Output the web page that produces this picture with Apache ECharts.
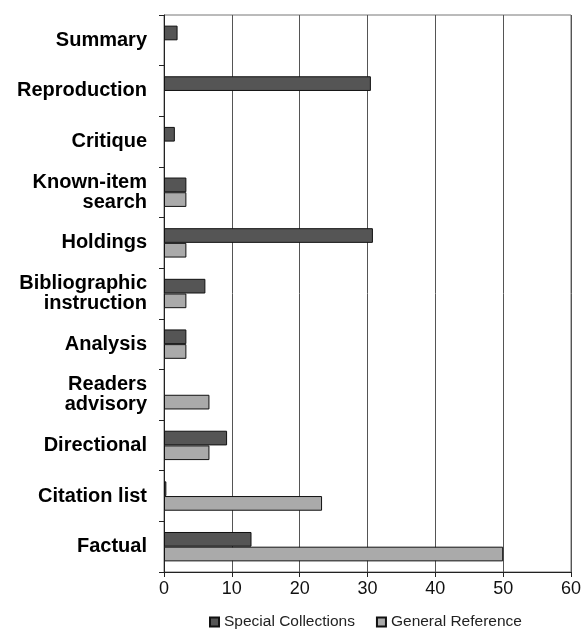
<!DOCTYPE html>
<html>
<head>
<meta charset="utf-8">
<script src="https://cdn.jsdelivr.net/npm/echarts@6/dist/echarts.min.js"></script>
<style>html,body{margin:0;padding:0;background:#fff}#c{width:584px;height:630px}</style>
</head>
<body>
<div id="c"></div>
<script>
const categories = ['Summary','Reproduction','Critique','Known-item\nsearch','Holdings','Bibliographic\ninstruction','Analysis','Readers\nadvisory','Directional','Citation list','Factual'];
const specialCollections = [2.0, 30.5, 1.6, 3.3, 30.8, 6.1, 3.3, null, 9.3, 0.35, 12.9];
const generalReference = [null, null, null, 3.3, 3.3, 3.3, 3.3, 6.7, 6.7, 23.3, 50.0];
const xTicks = [0, 10, 20, 30, 40, 50, 60];

const chart = echarts.init(document.getElementById('c'), null, {renderer:'canvas'});
chart.setOption({
  animation:false,
  backgroundColor:'#fff',
  textStyle:{fontFamily:'Liberation Sans, Arial, sans-serif'},
  grid:{left:164,right:12,top:15,bottom:58,containLabel:false,show:true,borderColor:'#777',borderWidth:1},
  legend:{
    top:609,left:204,
    itemWidth:9,itemHeight:9,itemGap:21,
    icon:'rect',
    textStyle:{fontSize:15.5,color:'#222'},
    data:['Special Collections','General Reference']
  },
  xAxis:{
    type:'value',min:xTicks[0],max:xTicks[xTicks.length-1],interval:10,
    axisLine:{show:true,lineStyle:{color:'#222',width:1}},
    axisTick:{show:true,length:5,lineStyle:{color:'#222'}},
    axisLabel:{fontSize:18,color:'#111',margin:8},
    splitLine:{show:true,lineStyle:{color:'#555',width:1}}
  },
  yAxis:{
    type:'category',data:categories,inverse:true,
    axisLine:{show:true,lineStyle:{color:'#222',width:1}},
    axisTick:{show:true,length:5,lineStyle:{color:'#222'}},
    axisLabel:{fontSize:20,fontWeight:'bold',color:'#000',margin:17,lineHeight:20,align:'right'},
    splitLine:{show:false}
  },
  series:[
    {name:'Special Collections',type:'bar',data:specialCollections,barGap:'0%',barCategoryGap:'42%',
     itemStyle:{color:'#555555',borderColor:'#111',borderWidth:1}},
    {name:'General Reference',type:'bar',data:generalReference,barGap:'0%',barCategoryGap:'42%',
     itemStyle:{color:'#aaaaaa',borderColor:'#111',borderWidth:1}}
  ]
});
</script>
</body>
</html>
